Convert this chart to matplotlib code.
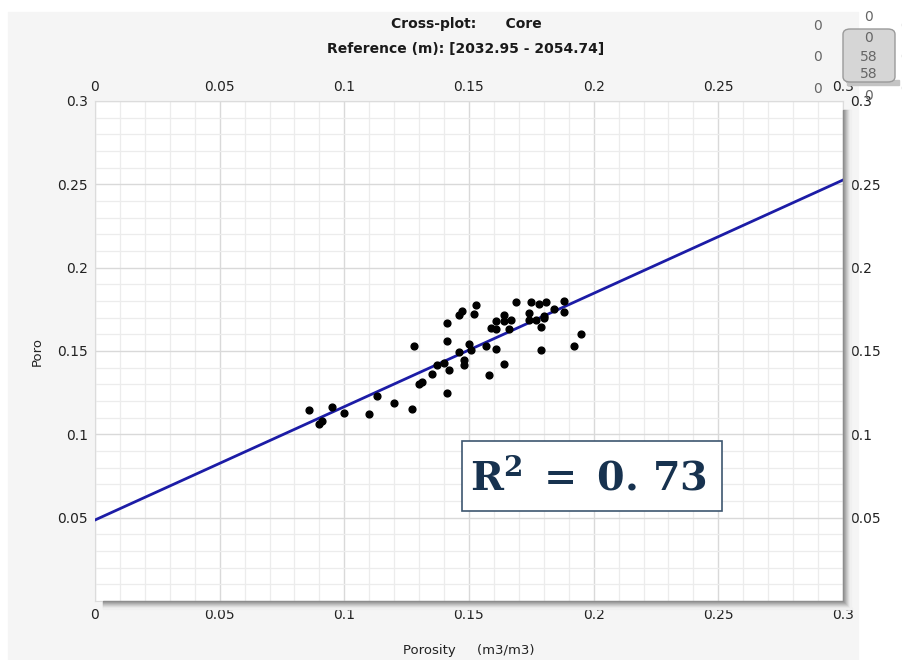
import numpy as np
import matplotlib
matplotlib.use("Agg")
import matplotlib.pyplot as plt
from matplotlib.patches import Rectangle, FancyBboxPatch
from matplotlib.ticker import MultipleLocator

plt.rcParams["mathtext.fontset"] = "dejavuserif"

# core porosity (x) vs log porosity (y)
poro_x = [0.086, 0.090, 0.091, 0.095, 0.100, 0.110, 0.113, 0.120, 0.127, 0.128,
          0.130, 0.131, 0.135, 0.137, 0.140, 0.141, 0.141, 0.141, 0.142, 0.146,
          0.146, 0.147, 0.148, 0.148, 0.150, 0.151, 0.152, 0.153, 0.157, 0.158,
          0.159, 0.161, 0.161, 0.161, 0.164, 0.164, 0.164, 0.166, 0.167, 0.169,
          0.174, 0.174, 0.175, 0.177, 0.178, 0.179, 0.179, 0.180, 0.180, 0.181,
          0.184, 0.188, 0.188, 0.192, 0.195]
poro_y = [0.1145, 0.1061, 0.1083, 0.1163, 0.1131, 0.1123, 0.1231, 0.1189, 0.1155, 0.1529,
          0.1305, 0.1317, 0.1365, 0.1419, 0.1429, 0.1249, 0.1559, 0.1667, 0.1385, 0.1495,
          0.1719, 0.1739, 0.1445, 0.1415, 0.1543, 0.1505, 0.1725, 0.1775, 0.1533, 0.1359,
          0.1637, 0.1679, 0.1631, 0.1515, 0.1719, 0.1679, 0.1425, 0.1633, 0.1689, 0.1797,
          0.1729, 0.1685, 0.1797, 0.1689, 0.1785, 0.1643, 0.1509, 0.1695, 0.1711, 0.1795,
          0.1751, 0.1799, 0.1737, 0.1529, 0.1603]

fit_intercept = 0.0486
fit_slope = 0.68
r_squared = 0.73

ticks = [0, 0.05, 0.1, 0.15, 0.2, 0.25, 0.3]
tick_labels = ["0", "0.05", "0.1", "0.15", "0.2", "0.25", "0.3"]

W, H = 903, 660
fig = plt.figure(figsize=(W / 100, H / 100), dpi=100)
fig.patch.set_facecolor("white")

def px(x0, y0, w, h):
    # pixel box (from top-left) -> figure fraction rect
    return (x0 / W, 1 - (y0 + h) / H, w / W, h / H)

# light panel background
fig.add_artist(Rectangle(px(8, 12, 850, 648)[:2], 850 / W, 648 / H,
                         transform=fig.transFigure, color="#f5f5f5", zorder=0))

# drop shadow of the plot frame
for i, c in enumerate(["#8a8a8a", "#9a9a9a", "#aaaaaa", "#bbbbbb", "#cbcbcb", "#dadada", "#e8e8e8", "#f0f0f0"]):
    r = px(103, 601 + i, 742 + i, 1)
    fig.add_artist(Rectangle(r[:2], r[2], r[3], transform=fig.transFigure, color=c, zorder=1))
    r = px(843 + i, 110, 1, 492 + i)
    fig.add_artist(Rectangle(r[:2], r[2], r[3], transform=fig.transFigure, color=c, zorder=1))

ax = fig.add_axes(px(95, 101, 748, 500))
ax.set_facecolor("white")
ax.set_xlim(0, 0.3)
ax.set_ylim(0, 0.3)
ax.xaxis.set_minor_locator(MultipleLocator(0.01))
ax.yaxis.set_minor_locator(MultipleLocator(0.01))
ax.set_xticks(ticks)
ax.set_xticklabels(tick_labels)
ax.set_yticks(ticks[1:])
ax.set_yticklabels(tick_labels[1:])
ax.grid(which="major", color="#d9d9d9", linewidth=1.0)
ax.grid(which="minor", color="#ececec", linewidth=0.9)
ax.set_axisbelow(True)
for s in ax.spines.values():
    s.set_color("#dcdcdc")
    s.set_linewidth(0.8)
ax.tick_params(which="both", length=0, labelsize=10, labelcolor="#222222",
               top=True, right=True, labeltop=True, labelright=True, pad=5)

xs = np.array([0, 0.3])
ax.plot(xs, fit_intercept + fit_slope * xs, color="#1c1ca6", linewidth=2, zorder=3)
ax.scatter(poro_x, poro_y, s=24, color="black", zorder=4)

# R² box
rb = px(462, 441, 260, 70)
fig.add_artist(Rectangle(rb[:2], rb[2], rb[3], transform=fig.transFigure, facecolor="white",
                         edgecolor="#3d5670", linewidth=1.2, zorder=5))
fig.text(588 / W, 1 - 478 / H, r"$\mathbf{R^2\ =\ 0.\,%s}$" % f"{r_squared:.2f}"[2:],
         fontsize=28.5, color="#17324f", ha="center", va="center", zorder=6)

ax.set_xlabel("Porosity     (m3/m3)", fontsize=9.5, family="Liberation Sans Narrow", color="#222222",
              labelpad=16)
ax.set_ylabel("Poro", fontsize=9.5, color="#222222", labelpad=10)

fig.text(466 / W, 1 - 24 / H, "Cross-plot:      Core", ha="center", va="center",
         fontsize=10, fontweight="bold", color="#1a1a1a")
fig.text(466 / W, 1 - 49 / H, "Reference (m): [2032.95 - 2054.74]", ha="center", va="center",
         fontsize=10, fontweight="bold", color="#1a1a1a")

# range widget in the corner
wb = px(843, 29, 52, 53)
fig.add_artist(Rectangle(px(847, 80, 52, 5)[:2], 52 / W, 5 / H, transform=fig.transFigure,
                         color="#c4c4c4", zorder=6))
fig.add_artist(FancyBboxPatch(wb[:2], wb[2], wb[3], boxstyle="round,pad=0,rounding_size=0.008",
                              transform=fig.transFigure, facecolor="#d6d6d6", edgecolor="#9a9a9a",
                              linewidth=1, zorder=7))
for yy, t in [(38, "0"), (57, "58"), (74, "58")]:
    fig.text(869 / W, 1 - yy / H, t, ha="center", va="center", fontsize=10, color="#666666", zorder=8)
for xx, yy in [(869, 17), (818, 26), (818, 57), (818, 89), (869, 96), (905, 26), (905, 57), (905, 89)]:
    fig.text(xx / W, 1 - yy / H, "0", ha="center", va="center", fontsize=10, color="#666666", zorder=8)

fig.savefig("out.png", dpi=100, facecolor=fig.get_facecolor())
